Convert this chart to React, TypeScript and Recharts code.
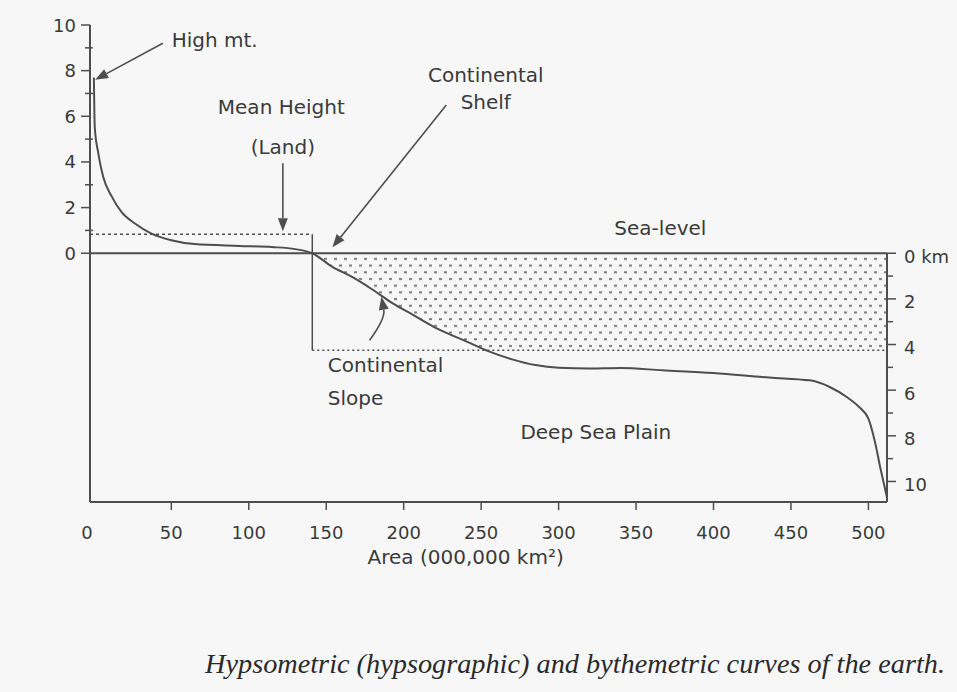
import { ComposedChart, Line, Area, XAxis, YAxis, ReferenceLine, ReferenceDot } from 'recharts'

// hypsographic curve: cumulative area (10^6 km²) vs elevation (km)
const area = [0, 0.6, 2.8, 6, 11.4, 17.9, 26.5, 37.2, 50, 65, 94, 115, 130, 141, 154, 167, 180, 193, 206, 223, 240, 255, 270, 285, 300, 320, 340, 367, 400, 436, 462, 475, 486, 494, 500, 504, 508, 512]
const elevation = [7.7, 5.5, 4.4, 3.35, 2.5, 1.8, 1.3, 0.86, 0.57, 0.4, 0.32, 0.27, 0.18, 0, -0.6, -1.05, -1.6, -2.2, -2.7, -3.35, -3.85, -4.3, -4.65, -4.9, -5.02, -5.05, -5.03, -5.13, -5.25, -5.45, -5.57, -5.86, -6.3, -6.74, -7.25, -8.2, -9.5, -10.7]

const meanLandHeight = 0.83
const meanOceanDepth = -4.25
const landArea = 141
const earthArea = 512

const heightTicks = [0, 1, 2, 3, 4, 5, 6, 7, 8, 9, 10]
const depthTicks = [0, -1, -2, -3, -4, -5, -6, -7, -8, -9, -10]
const areaTicks = [0, 50, 100, 150, 200, 250, 300, 350, 400, 450, 500]

const notes = [
  { text: 'High mt.', x: 78, y: 9.33, anchor: 'middle' },
  { text: 'Mean Height', x: 121, y: 6.4, anchor: 'middle' },
  { text: '(Land)', x: 122, y: 4.65, anchor: 'middle' },
  { text: 'Continental', x: 253, y: 7.8, anchor: 'middle' },
  { text: 'Shelf', x: 253, y: 6.63, anchor: 'middle' },
  { text: 'Sea-level', x: 336, y: 1.1, anchor: 'start' },
  { text: 'Continental', x: 151, y: -4.9, anchor: 'start' },
  { text: 'Slope', x: 151, y: -6.35, anchor: 'start' },
  { text: 'Deep Sea Plain', x: 324, y: -7.84, anchor: 'middle' },
]

const arrows = [
  { from: [44.5, 9.2], to: [0.8, 7.6], bend: 0 },
  { from: [122, 3.94], to: [122, 0.96], bend: 0 },
  { from: [227.5, 6.49], to: [154, 0.26], bend: 0 },
  { from: [178, -3.81], to: [185.6, -1.91], bend: 10 },
]

const ink = '#4e4e4e'
const textInk = '#3a3a3a'
const font = '"DejaVu Sans", sans-serif'

const data = area.map((a, i) => ({
  area: a,
  elev: elevation[i],
  sea: a >= landArea ? [Math.max(elevation[i], meanOceanDepth), 0] : null,
}))

function HeightTick({ x, y, payload }: any) {
  const major = payload.value % 2 === 0
  return (
    <g>
      <line x1={major ? x - 9 : x - 5} x2={major ? x : x + 3} y1={y} y2={y} stroke={ink} strokeWidth={1.5} />
      {major && (
        <text x={x - 14} y={y} textAnchor="end" dominantBaseline="central" fontSize={18} fontFamily={font} fill={textInk}>
          {payload.value}
        </text>
      )}
    </g>
  )
}

function DepthTick({ x, y, payload }: any) {
  const v = -payload.value
  const major = v % 2 === 0
  return (
    <g>
      <line x1={x} x2={major ? x + 9 : x + 6} y1={y} y2={y} stroke={ink} strokeWidth={1.5} />
      {major && (
        <text x={x + 17} y={y + 3} textAnchor="start" dominantBaseline="central" fontSize={18} fontFamily={font} fill={textInk}>
          {v === 0 ? '0 km' : v}
        </text>
      )}
    </g>
  )
}

function AreaTick({ x, y, payload }: any) {
  return (
    <g>
      {payload.value !== 0 && <line x1={x} x2={x} y1={y} y2={y + 8} stroke={ink} strokeWidth={1.5} />}
      <text x={payload.value === 0 ? x - 7 : x} y={y + 30} textAnchor="middle" dominantBaseline="central" fontSize={18} fontFamily={font} fill={textInk}>
        {payload.value}
      </text>
    </g>
  )
}

function Arrow({ x1, y1, x2, y2, bend }: any) {
  const cx = (x1 + x2) / 2 + bend
  const cy = (y1 + y2) / 2
  const sx = bend ? cx : x1
  const sy = bend ? cy : y1
  const len = Math.hypot(x2 - sx, y2 - sy) || 1
  const ux = (x2 - sx) / len
  const uy = (y2 - sy) / len
  const hl = 13
  const hw = 5
  const bx = x2 - ux * hl
  const by = y2 - uy * hl
  const d = bend ? `M${x1},${y1} Q${cx},${cy} ${bx},${by}` : `M${x1},${y1} L${bx},${by}`
  return (
    <g>
      <path d={d} fill="none" stroke={ink} strokeWidth={1.6} />
      <polygon points={`${x2},${y2} ${bx - uy * hw},${by + ux * hw} ${bx + uy * hw},${by - ux * hw}`} fill={ink} />
    </g>
  )
}

export default function App() {
  return (
    <div style={{ position: 'absolute', left: 0, top: 0, width: 957, height: 692, background: '#f7f7f7' }}>
      <div style={{ position: 'absolute', left: 8, top: 8 }}>
        <ComposedChart width={941} height={575} data={data} margin={{ top: 17, right: 12, bottom: 41, left: 0 }}>
          <defs>
            <pattern id="seaDots" width="10" height="13.4" patternUnits="userSpaceOnUse">
              <rect x="1" y="2" width="3" height="2" fill="#7a7a7a" />
              <rect x="6" y="8.7" width="3" height="2" fill="#7a7a7a" />
            </pattern>
          </defs>
          <XAxis
            dataKey="area"
            type="number"
            domain={[-2.5, earthArea]}
            allowDataOverflow
            ticks={areaTicks}
            interval={0}
            height={40}
            tickSize={0}
            tickMargin={0}
            tickLine={false}
            tick={(p: any) => <AreaTick {...p} />}
            axisLine={{ stroke: ink, strokeWidth: 2 }}
          />
          <YAxis
            yAxisId="left"
            type="number"
            domain={[-10.9, 10]}
            allowDataOverflow
            ticks={heightTicks}
            interval={0}
            width={82}
            tickSize={0}
            tickMargin={0}
            tickLine={false}
            tick={(p: any) => <HeightTick {...p} />}
            axisLine={{ stroke: ink, strokeWidth: 2 }}
          />
          <YAxis
            yAxisId="right"
            orientation="right"
            type="number"
            domain={[-10.9, 10]}
            allowDataOverflow
            ticks={depthTicks}
            interval={0}
            width={50}
            tickSize={0}
            tickMargin={0}
            tickLine={false}
            tick={(p: any) => <DepthTick {...p} />}
            axisLine={false}
          />
          <Area
            yAxisId="left"
            dataKey="sea"
            type="monotone"
            stroke="none"
            fill="url(#seaDots)"
            fillOpacity={1}
            isAnimationActive={false}
          />
          <ReferenceLine yAxisId="left" y={0} stroke={ink} strokeWidth={2} />
          <ReferenceLine
            yAxisId="left"
            segment={[{ x: -2.5, y: meanLandHeight }, { x: landArea, y: meanLandHeight }]}
            stroke={ink}
            strokeWidth={1.5}
            strokeDasharray="3 3"
          />
          <ReferenceLine
            yAxisId="left"
            segment={[{ x: landArea, y: meanLandHeight }, { x: landArea, y: meanOceanDepth }]}
            stroke={ink}
            strokeWidth={1.5}
          />
          <ReferenceLine
            yAxisId="left"
            segment={[{ x: landArea, y: meanOceanDepth }, { x: earthArea, y: meanOceanDepth }]}
            stroke={ink}
            strokeWidth={1.5}
            strokeDasharray="2 3"
          />
          <ReferenceLine
            yAxisId="left"
            segment={[{ x: earthArea, y: 0 }, { x: earthArea, y: -10.9 }]}
            stroke={ink}
            strokeWidth={2}
          />
          <Line
            yAxisId="left"
            dataKey="elev"
            type="monotone"
            stroke={ink}
            strokeWidth={2}
            dot={false}
            isAnimationActive={false}
          />
          {arrows.map((a, i) => (
            <ReferenceLine
              key={'arrow' + i}
              yAxisId="left"
              segment={[{ x: a.from[0], y: a.from[1] }, { x: a.to[0], y: a.to[1] }]}
              ifOverflow="visible"
              shape={(p: any) => <Arrow {...p} bend={a.bend} />}
            />
          ))}
          {notes.map((n, i) => (
            <ReferenceDot
              key={'note' + i}
              yAxisId="left"
              x={n.x}
              y={n.y}
              ifOverflow="visible"
              shape={(p: any) => (
                <text x={p.cx} y={p.cy} textAnchor={n.anchor} dominantBaseline="central" fontSize={20} fontFamily={font} fill={textInk}>
                  {n.text}
                </text>
              )}
            />
          ))}
          <ReferenceDot
            yAxisId="left"
            x={240}
            y={-13.3}
            ifOverflow="visible"
            shape={(p: any) => (
              <text x={p.cx} y={p.cy} textAnchor="middle" dominantBaseline="central" fontSize={20} fontFamily={font} fill={textInk}>
                Area (000,000 km²)
              </text>
            )}
          />
        </ComposedChart>
      </div>
      <svg width={957} height={692} style={{ position: 'absolute', left: 0, top: 0, pointerEvents: 'none' }}>
        <text
          x={205}
          y={673}
          textLength={740}
          lengthAdjust="spacingAndGlyphs"
          fontSize={27}
          fontStyle="italic"
          fontFamily='"Liberation Serif", serif'
          fill="#2a2a2a"
        >
          Hypsometric (hypsographic) and bythemetric curves of the earth.
        </text>
      </svg>
    </div>
  )
}
